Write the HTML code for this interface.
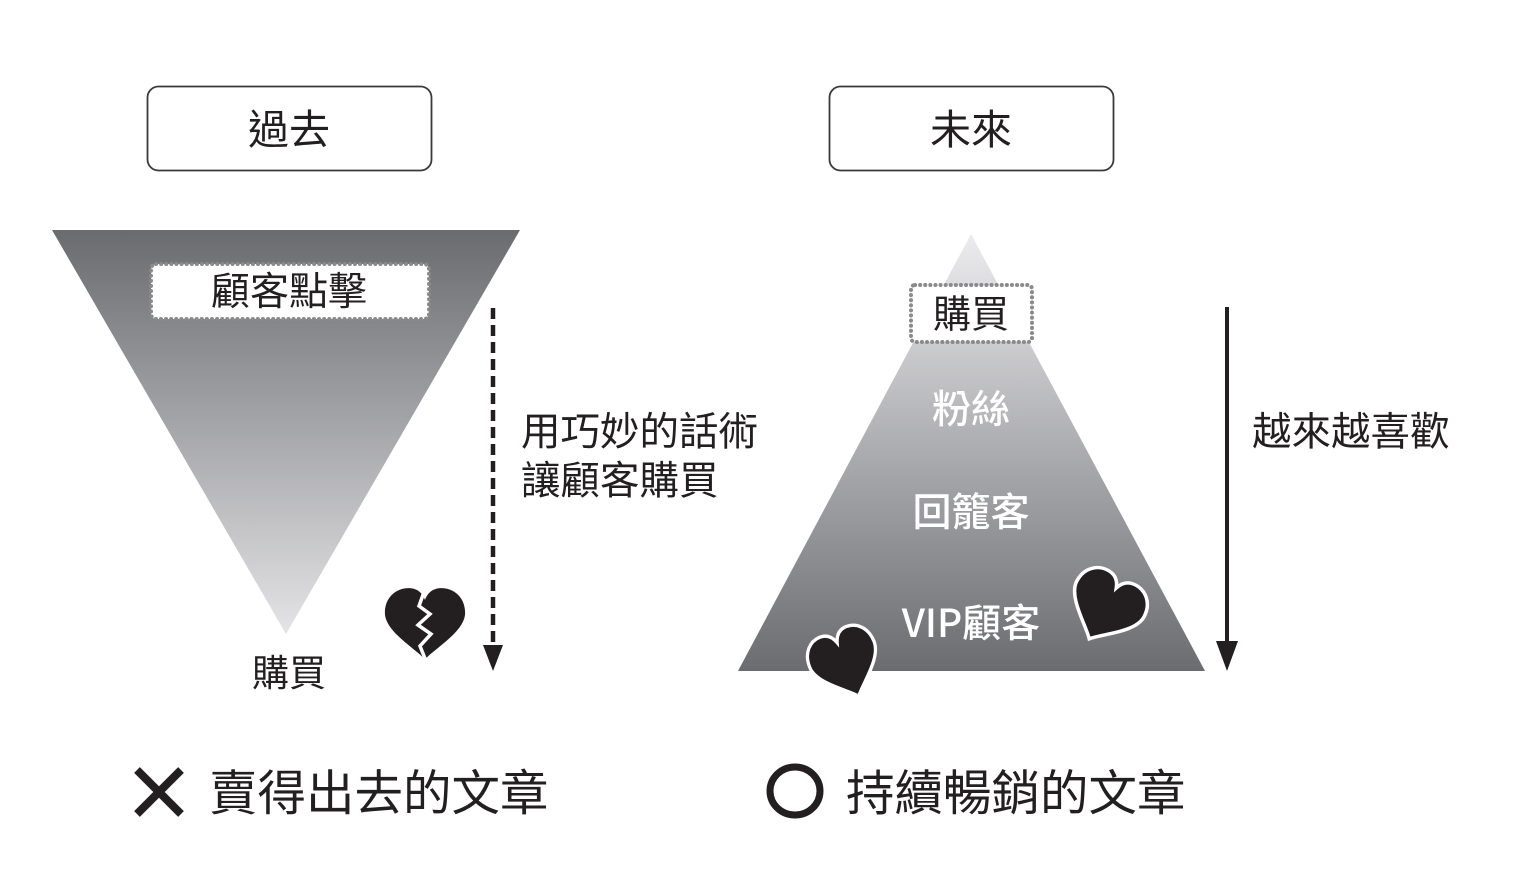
<!DOCTYPE html>
<html><head><meta charset="utf-8"><style>
html,body{margin:0;padding:0;background:#fff;width:1536px;height:891px;overflow:hidden}
svg{display:block}
text{font-family:"Liberation Sans","Noto Sans CJK TC",sans-serif}
.cjk{font-family:"Noto Sans CJK TC","Noto Sans CJK SC",sans-serif}
</style></head><body>
<svg width="1536" height="891" viewBox="0 0 1536 891" xmlns="http://www.w3.org/2000/svg">
<defs>
<linearGradient id="gDown" x1="0" y1="0" x2="0" y2="1">
<stop offset="0" stop-color="#6a6b6f"/><stop offset="1" stop-color="#e4e4e6"/>
</linearGradient>
<linearGradient id="gUp" x1="0" y1="0" x2="0" y2="1">
<stop offset="0" stop-color="#ececee"/><stop offset="1" stop-color="#6b6c70"/>
</linearGradient>
<path id="heart" d="M0,30 C-8,20 -34,4 -34,-13 C-34,-28 -24,-36 -14,-36 C-6,-36 -2,-31 0,-25 C2,-31 6,-36 14,-36 C24,-36 34,-28 34,-13 C34,4 8,20 0,30 Z"/>
</defs>

<!-- header boxes -->
<rect x="147.5" y="86.5" width="284" height="84" rx="11" fill="#fff" stroke="#3a3a3a" stroke-width="1.8"/>
<text class="cjk" x="289" y="126" font-size="41" text-anchor="middle" dominant-baseline="central" fill="#231f20">過去</text>
<rect x="829.5" y="86.5" width="284" height="84" rx="11" fill="#fff" stroke="#3a3a3a" stroke-width="1.8"/>
<text class="cjk" x="971" y="126" font-size="41" text-anchor="middle" dominant-baseline="central" fill="#231f20">未來</text>

<!-- inverted triangle -->
<polygon points="52,230 520,230 286,634" fill="url(#gDown)"/>
<rect x="151" y="264" width="278" height="55" rx="5" fill="#fff" stroke="#8a8a8a" stroke-width="4" stroke-dasharray="0.1 5" stroke-linecap="round"/>
<text class="cjk" x="289" y="289" font-size="39" text-anchor="middle" dominant-baseline="central" fill="#231f20">顧客點擊</text>
<text class="cjk" x="289" y="670" font-size="37" text-anchor="middle" dominant-baseline="central" fill="#231f20">購買</text>

<!-- dashed arrow -->
<line x1="493" y1="308" x2="493" y2="648" stroke="#231f20" stroke-width="4.5" stroke-dasharray="11 6"/>
<polygon points="483,645 503,645 493,671" fill="#231f20"/>
<text class="cjk" x="521" y="429" font-size="39.5" dominant-baseline="central" fill="#231f20">用巧妙的話術</text>
<text class="cjk" x="521" y="478" font-size="39.5" dominant-baseline="central" fill="#231f20">讓顧客購買</text>

<!-- broken heart -->
<g transform="translate(425,627) scale(1.18,1.08)">
<use href="#heart" fill="#231f20"/>
</g>
<polyline points="424,592 419,606 430,614 418,625 431,634 420,646 428,666" fill="none" stroke="#fff" stroke-width="3.5" stroke-linejoin="miter"/>

<!-- pyramid -->
<polygon points="971,234 1205,671 738,671" fill="url(#gUp)"/>
<rect x="911" y="285" width="121" height="57" rx="4" fill="#fff" stroke="#8a8a8a" stroke-width="4" stroke-dasharray="0.1 5" stroke-linecap="round"/>
<text class="cjk" x="971" y="311" font-size="38" text-anchor="middle" dominant-baseline="central" fill="#231f20">購買</text>
<text class="cjk" x="971" y="407" font-size="39" text-anchor="middle" dominant-baseline="central" fill="#fff" font-weight="500">粉絲</text>
<text class="cjk" x="971" y="510" font-size="39" text-anchor="middle" dominant-baseline="central" fill="#fff" font-weight="500">回籠客</text>
<text class="cjk" x="971" y="621" font-size="39" text-anchor="middle" dominant-baseline="central" fill="#fff" font-weight="500">VIP顧客</text>

<!-- hearts -->
<g transform="translate(1104,611) rotate(28) scale(1.12,1.05)">
<use href="#heart" fill="#231f20" stroke="#fff" stroke-width="3.2"/>
</g>
<g transform="translate(847,667) rotate(-22) scale(1.02,1.05)">
<use href="#heart" fill="#231f20" stroke="#fff" stroke-width="3.2"/>
</g>

<!-- solid arrow -->
<line x1="1227" y1="307" x2="1227" y2="645" stroke="#231f20" stroke-width="4"/>
<polygon points="1216,641 1238,641 1227,671" fill="#231f20"/>
<text class="cjk" x="1252" y="429" font-size="39.5" dominant-baseline="central" fill="#231f20">越來越喜歡</text>

<!-- bottom labels -->
<line x1="137" y1="770" x2="181" y2="814" stroke="#231f20" stroke-width="8"/>
<line x1="181" y1="770" x2="137" y2="814" stroke="#231f20" stroke-width="8"/>
<text class="cjk" x="209" y="789" font-size="48.5" dominant-baseline="central" fill="#231f20">賣得出去的文章</text>
<ellipse cx="795" cy="791" rx="25" ry="24" fill="none" stroke="#231f20" stroke-width="7"/>
<text class="cjk" x="846" y="789" font-size="48.5" dominant-baseline="central" fill="#231f20">持續暢銷的文章</text>
</svg>
</body></html>
